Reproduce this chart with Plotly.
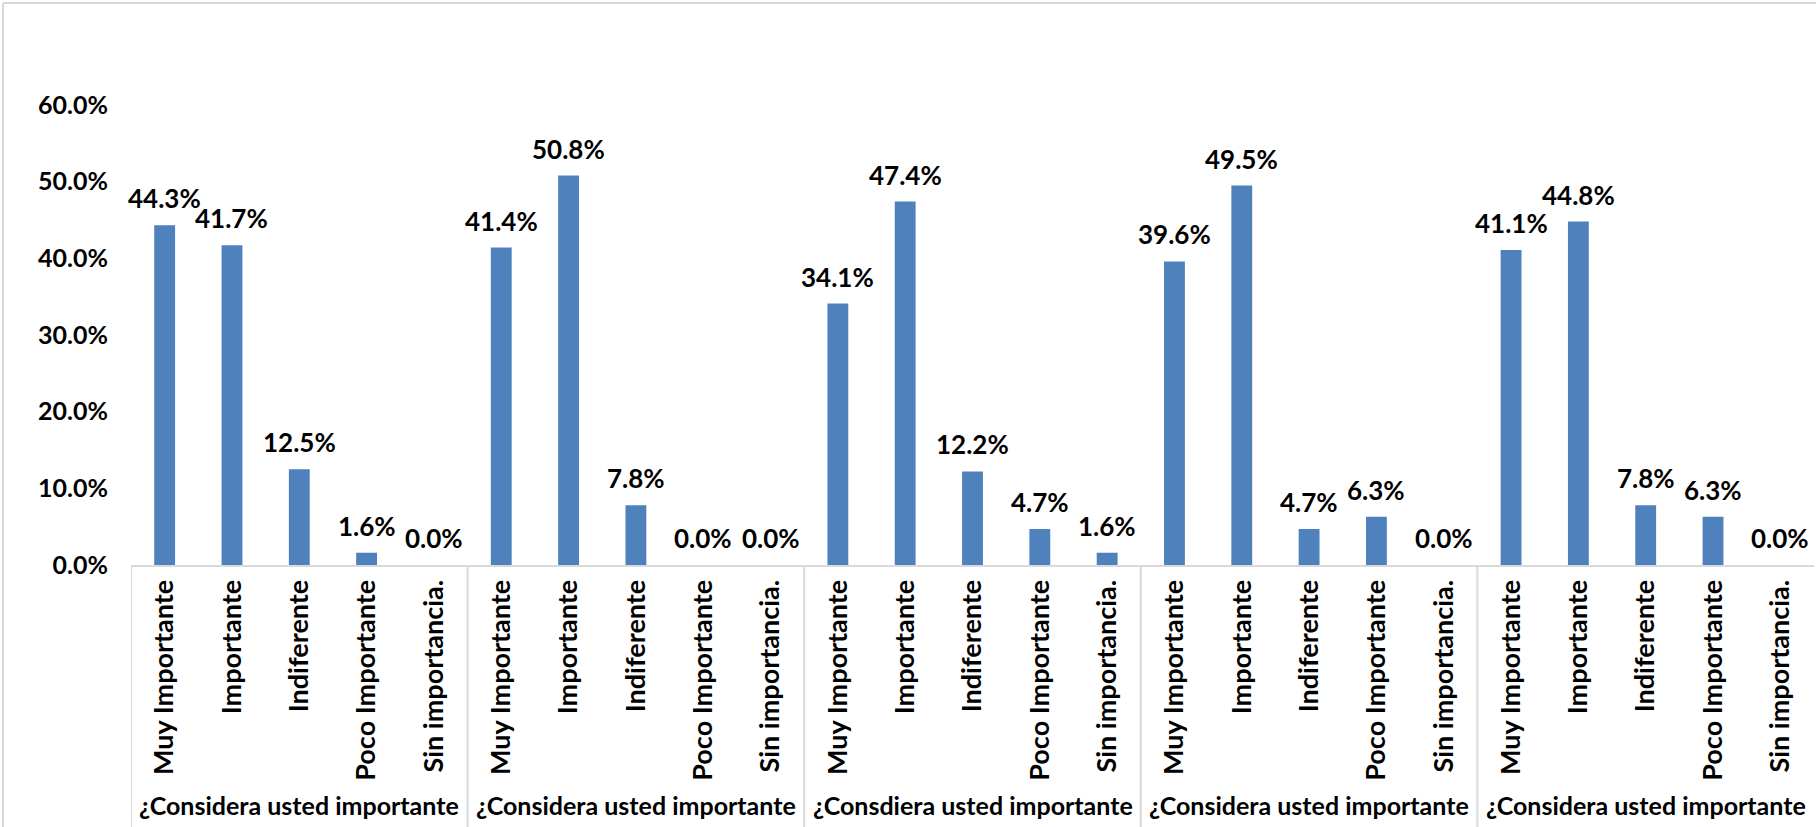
import plotly.graph_objects as go

# Survey answers per question block
groups = [
    "¿Considera usted importante",
    "¿Considera usted importante",
    "¿Consdiera usted importante",
    "¿Considera usted importante",
    "¿Considera usted importante",
]
answers = ["Muy Importante", "Importante", "Indiferente", "Poco Importante", "Sin importancia."]

# Share of respondents (fractions) for each block
block1 = [0.443, 0.417, 0.125, 0.016, 0.000]
block2 = [0.414, 0.508, 0.078, 0.000, 0.000]
block3 = [0.341, 0.474, 0.122, 0.047, 0.016]
block4 = [0.396, 0.495, 0.047, 0.063, 0.000]
block5 = [0.411, 0.448, 0.078, 0.063, 0.000]

y_ticks = [0.0, 0.1, 0.2, 0.3, 0.4, 0.5, 0.6]

blocks = [block1, block2, block3, block4, block5]
n_ans = len(answers)
values = [v for b in blocks for v in b]
positions = list(range(len(values)))
tick_text = answers * len(blocks)

BLUE = "#4F81BD"
LINE = "#D9D9D9"
FONT = "Lato"

W, H = 1816, 827
M_L, M_R, M_T, M_B = 131, 2, 105, 262
plot_h = H - M_T - M_B
plot_w = W - M_L - M_R

fig = go.Figure()
fig.add_trace(go.Bar(
    x=positions,
    y=values,
    width=0.31,
    marker=dict(color=BLUE, line=dict(width=0)),
    hovertemplate="%{y:.1%}<extra></extra>",
))

# value labels above each bar
for x, v in zip(positions, values):
    fig.add_annotation(
        x=x, y=v, xref="x", yref="y",
        text=f"{v * 100:.1f}%",
        showarrow=False, yanchor="bottom", yshift=9,
        font=dict(family=FONT, size=26, color="#000000", weight="bold"),
    )

# block titles under the answer labels
for i, g in enumerate(groups):
    fig.add_annotation(
        x=i * n_ans + (n_ans - 1) / 2, xref="x",
        y=-(805 - (H - M_B)) / plot_h, yref="paper",
        text=g, showarrow=False, yanchor="middle",
        font=dict(family=FONT, size=25, color="#000000", weight="bold"),
    )

# separators between blocks in the category area
for i in range(len(blocks)):
    fig.add_shape(
        type="line", xref="x", yref="paper",
        x0=i * n_ans - 0.5, x1=i * n_ans - 0.5,
        y0=0, y1=-M_B / plot_h,
        line=dict(color=LINE, width=2),
    )

# chart-area frame (top and left edges)
fx0 = (3 - M_L) / plot_w
fy1 = 1 + (M_T - 3) / plot_h
fig.add_shape(type="line", xref="paper", yref="paper",
              x0=fx0, x1=1 + M_R / plot_w, y0=fy1, y1=fy1,
              line=dict(color=LINE, width=2))
fig.add_shape(type="line", xref="paper", yref="paper",
              x0=fx0, x1=fx0, y0=fy1, y1=-M_B / plot_h,
              line=dict(color=LINE, width=2))

fig.update_layout(
    width=W, height=H, autosize=False,
    margin=dict(l=M_L, r=M_R, t=M_T, b=M_B),
    paper_bgcolor="white", plot_bgcolor="white",
    showlegend=False,
    font=dict(family=FONT, size=24, color="#000000", weight="bold"),
    xaxis=dict(
        range=[-0.5, len(values) - 0.5],
        tickmode="array", tickvals=positions, ticktext=tick_text,
        tickangle=-90, ticks="", ticklabelstandoff=2,
        showgrid=False, zeroline=False,
        showline=True, linecolor=LINE, linewidth=2,
        tickfont=dict(family=FONT, size=27, color="#000000", weight="bold"),
    ),
    yaxis=dict(
        range=[0, 0.6],
        tickmode="array", tickvals=y_ticks, tickformat=".1%",
        ticks="", ticklabelstandoff=22,
        showgrid=False, zeroline=False, showline=False,
        tickfont=dict(family=FONT, size=25, color="#000000", weight="bold"),
    ),
)

fig.write_html("out.html")
